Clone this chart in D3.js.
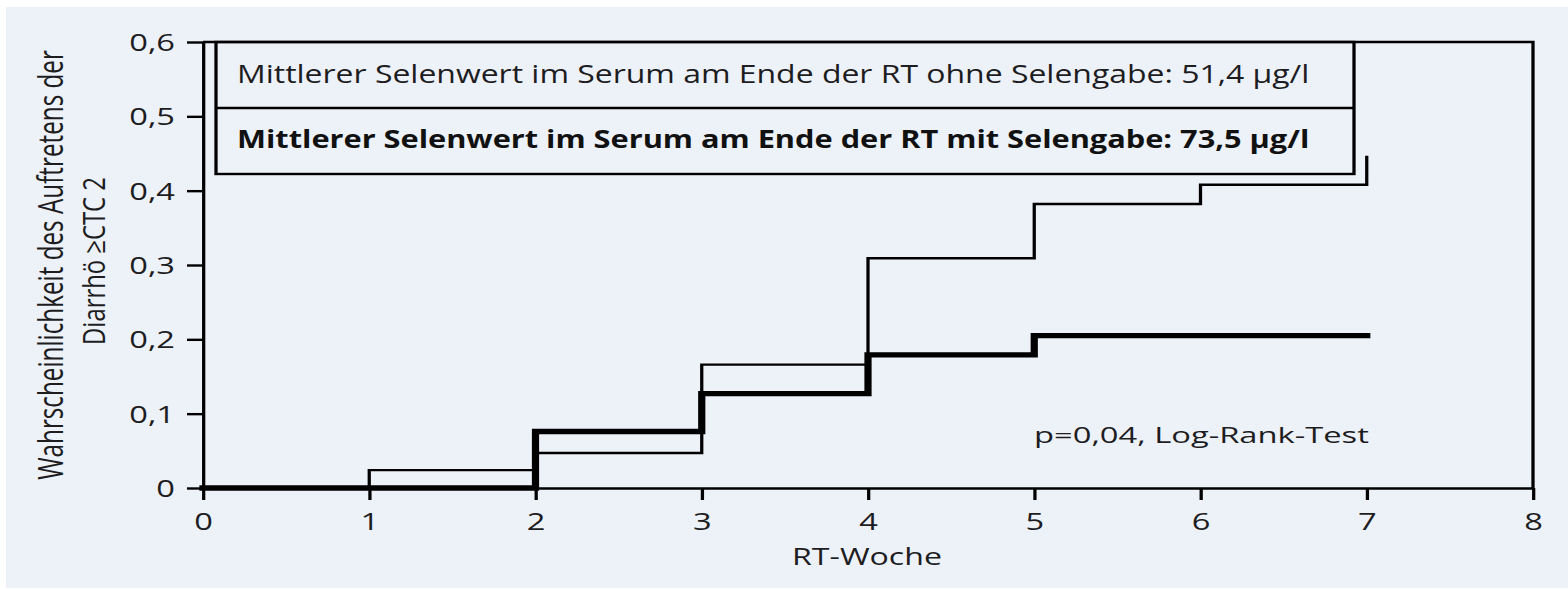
<!DOCTYPE html>
<html>
<head>
<meta charset="utf-8">
<script src="https://cdn.jsdelivr.net/npm/d3@7"></script>
<style>
  html, body { margin: 0; padding: 0; background: #ffffff; }
  svg { display: block; }
  text { font-family: "Open Sans", "Noto Sans", sans-serif; fill: #1d1d1f; }
</style>
</head>
<body>
<svg id="chart" width="1568" height="590"></svg>
<script>
// ---- data ----
const weeks = [0, 1, 2, 3, 4, 5, 6, 7];
const ohneSelen = [0, 0.024, 0.047, 0.166, 0.309, 0.382, 0.408, 0.447]; // thin line
const mitSelen  = [0, 0, 0.076, 0.127, 0.179, 0.205, 0.205, 0.205];    // thick line
const xTicks = [0, 1, 2, 3, 4, 5, 6, 7, 8];
const yTicks = [0, 0.1, 0.2, 0.3, 0.4, 0.5, 0.6];
const legendLabels = [
  "Mittlerer Selenwert im Serum am Ende der RT ohne Selengabe: 51,4 \u00b5g/l",
  "Mittlerer Selenwert im Serum am Ende der RT mit Selengabe: 73,5 \u00b5g/l"
];
const yLabelLines = ["Wahrscheinlichkeit des Auftretens der", "Diarrh\u00f6 \u2265CTC 2"];
const xLabel = "RT-Woche";
const pText = "p=0,04, Log-Rank-Test";

// ---- layout ----
const svg = d3.select("#chart");
const SX = 1.36; // the reference is stretched horizontally
const L = 203, R = 1533, T = 42, B = 488;
// scales inside the horizontally stretched group
const x = d3.scaleLinear().domain([0, 8]).range([L / SX, R / SX]);
const y = d3.scaleLinear().domain([0, 0.6]).range([B, T]);

// background panel
svg.append("rect").attr("x", 6).attr("y", 7).attr("width", 1562).attr("height", 581)
  .attr("fill", "#edf1f8");

const g = svg.append("g").attr("transform", `scale(${SX},1)`);
const SW = 2.4;

// axes
const fmt = d => d === 0 ? "0" : d3.format(".1f")(d).replace(".", ",");
const yAxis = g.append("g").attr("transform", `translate(${L / SX},0)`)
  .call(d3.axisLeft(y).tickValues(yTicks).tickFormat(fmt)
    .tickSize(16 / SX).tickSizeOuter(0).tickPadding(12 / SX));
const xAxis = g.append("g").attr("transform", `translate(0,${B})`)
  .call(d3.axisBottom(x).tickValues(xTicks).tickFormat(d3.format("d"))
    .tickSize(12).tickSizeOuter(0).tickPadding(13));
[yAxis, xAxis].forEach(a => {
  a.attr("font-size", null).attr("font-family", null);
  a.selectAll(".domain").attr("stroke", "#000").attr("stroke-width", SW);
  a.selectAll(".tick line").attr("stroke", "#000").attr("stroke-width", SW);
  a.selectAll(".tick text").style("font-size", "24px").attr("fill", "#1d1d1f");
});
yAxis.selectAll(".tick text").attr("dy", "0.36em");
xAxis.selectAll(".tick text").attr("y", 42).attr("dy", 0);

// frame top & right
g.append("path")
  .attr("d", `M${L / SX},${T}H${R / SX}V${B}`)
  .attr("fill", "none").attr("stroke", "#000").attr("stroke-width", SW);

// legend box
const lgX = 216, lgR = 1354, lgMid = 108, lgB = 174;
g.append("rect").attr("x", lgX / SX).attr("y", T).attr("width", (lgR - lgX) / SX).attr("height", lgB - T)
  .attr("fill", "none").attr("stroke", "#000").attr("stroke-width", SW);
g.append("line").attr("x1", lgX / SX).attr("x2", lgR / SX).attr("y1", lgMid).attr("y2", lgMid)
  .attr("stroke", "#000").attr("stroke-width", SW);

// curves
const line = d3.line().x((d, i) => x(weeks[i])).y(d => y(d)).curve(d3.curveStepAfter);
g.append("path").datum(ohneSelen).attr("d", line)
  .attr("fill", "none").attr("stroke", "#000").attr("stroke-width", SW);
g.append("path").datum(mitSelen).attr("d", line)
  .attr("fill", "none").attr("stroke", "#000").attr("stroke-width", 5.3).attr("stroke-linecap", "square");

// ---- texts (root coordinates) ----
function htext(str, x0, y0, size, targetW, anchor, bold) {
  const t = svg.append("text").attr("x", 0).attr("y", 0)
    .attr("text-anchor", anchor || "start")
    .style("font-size", size + "px")
    .style("font-weight", bold ? "bold" : "normal")
    .text(str);
  const w = t.node().getComputedTextLength();
  const sx = targetW / w;
  t.attr("transform", `translate(${x0},${y0}) scale(${sx.toFixed(4)},1)`);
  return t;
}
function vtext(str, bx, cy, targetLen, targetH) {
  const t = svg.append("text").attr("x", 0).attr("y", 0).attr("text-anchor", "middle")
    .style("font-size", "20px").text(str);
  const w = t.node().getComputedTextLength();
  const fs = 20 * targetLen / w;
  t.style("font-size", fs.toFixed(2) + "px");
  const sx = targetH / (0.76 * fs);
  t.attr("transform", `translate(${bx},${cy}) scale(${sx.toFixed(4)},1) rotate(-90)`);
  return t;
}

htext(legendLabels[0], 237, 83, 25, 1073, "start", false);
htext(legendLabels[1], 237, 148, 25, 1073, "start", true).style("fill", "#111");
htext(pText, 1034, 443, 22, 335, "start", false);
htext(xLabel, 867, 565, 24, 150, "middle", false);
vtext(yLabelLines[0], 63, 265, 430, 26);
vtext(yLabelLines[1], 105, 261, 168, 23);
</script>
</body>
</html>
